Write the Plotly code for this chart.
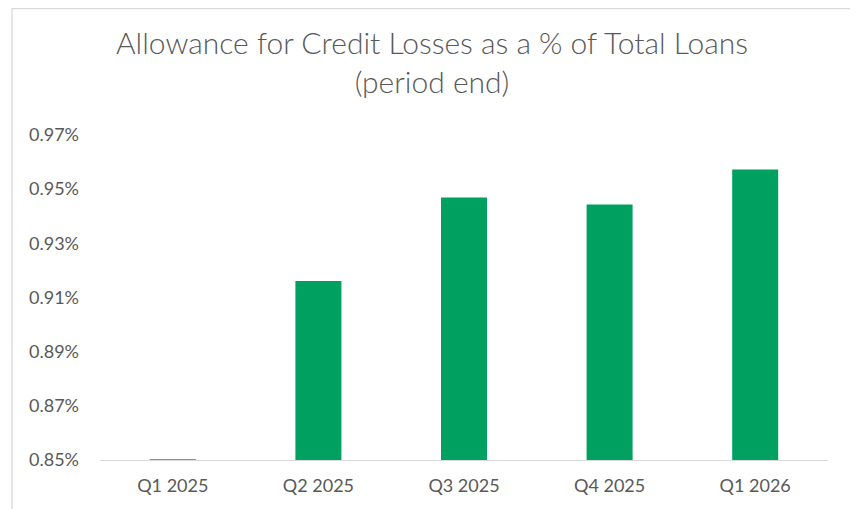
import plotly.graph_objects as go

categories = ["Q1 2025", "Q2 2025", "Q3 2025", "Q4 2025", "Q1 2026"]
acl_pct = [0.8503, 0.9161, 0.9469, 0.9443, 0.9573]
y_ticks = [0.85, 0.87, 0.89, 0.91, 0.93, 0.95, 0.97]
y_tick_labels = ["0.85%", "0.87%", "0.89%", "0.91%", "0.93%", "0.95%", "0.97%"]

# page has an 8px body margin; figure coordinates are page minus 8
OFF = 8
W, H = 858 - OFF, 509 - OFF
L, R, T, B = 100 - OFF, 30, 135 - OFF, 49
pw, ph = W - L - R, H - T - B

def px_x(p):
    return (p - OFF - L) / pw

def px_y(p):
    return (H - B - (p - OFF)) / ph

text_col = "#595959"

fig = go.Figure(go.Bar(
    x=categories, y=acl_pct,
    marker=dict(color="#00A160", line=dict(width=0)),
    width=0.316,
))

fig.update_layout(
    width=W, height=H,
    margin=dict(l=L, r=R, t=T, b=B),
    paper_bgcolor="white", plot_bgcolor="white",
    showlegend=False,
    title=dict(
        text="Allowance for Credit Losses as a % of Total Loans<br>(period end)",
        x=(432 - OFF) / W, xanchor="center",
        y=1 - 46 / H, yanchor="top",
        font=dict(family="Lato", size=30, color=text_col, weight=300),
    ),
    font=dict(family="Lato", color=text_col, size=18),
    xaxis=dict(
        showgrid=False, showline=True, linecolor="#D9D9D9", linewidth=1,
        ticks="", tickfont=dict(size=18, color=text_col),
        ticklabelstandoff=9,
    ),
    yaxis=dict(
        range=[0.85, 0.97], tickvals=y_ticks, ticktext=y_tick_labels,
        showgrid=False, showline=False, zeroline=False, ticks="",
        tickfont=dict(size=18, color=text_col),
        ticklabelstandoff=20,
    ),
    shapes=[dict(
        type="rect", xref="paper", yref="paper",
        x0=px_x(12), x1=px_x(855), y0=px_y(540), y1=(H - B) / ph - 0.5 / ph,
        line=dict(color="#D9D9D9", width=1.3), fillcolor="rgba(0,0,0,0)",
        layer="below",
    )],
)

fig.write_html("out.html")
